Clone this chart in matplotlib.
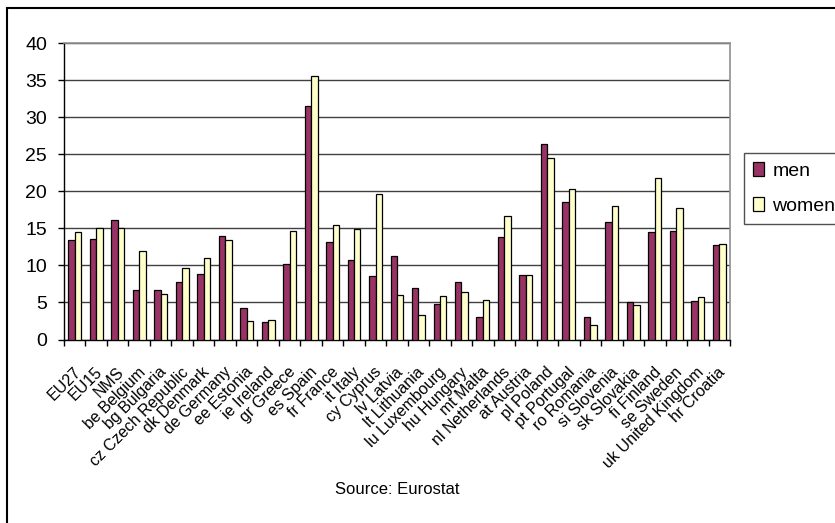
import matplotlib
matplotlib.use("Agg")
import matplotlib.pyplot as plt
import numpy as np
from matplotlib.patches import Rectangle

plt.rcParams["font.family"] = ["Liberation Sans", "DejaVu Sans"]

countries = [
    "EU27", "EU15", "NMS", "be Belgium", "bg Bulgaria", "cz Czech Republic",
    "dk Denmark", "de Germany", "ee Estonia", "ie Ireland", "gr Greece",
    "es Spain", "fr France", "it Italy", "cy Cyprus", "lv Latvia",
    "lt Lithuania", "lu Luxembourg", "hu Hungary", "mt Malta",
    "nl Netherlands", "at Austria", "pl Poland", "pt Portugal", "ro Romania",
    "si Slovenia", "sk Slovakia", "fi Finland", "se Sweden",
    "uk United Kingdom", "hr Croatia",
]
men = [13.4, 13.6, 16.1, 6.7, 6.7, 7.7, 8.8, 14.0, 4.2, 2.3, 10.2,
       31.6, 13.2, 10.7, 8.6, 11.3, 6.9, 4.8, 7.7, 3.1, 13.8, 8.7,
       26.4, 18.6, 3.1, 15.9, 5.0, 14.5, 14.6, 5.2, 12.7]
women = [14.5, 15.0, 15.0, 11.9, 6.2, 9.6, 11.0, 13.4, 2.5, 2.7, 14.6,
         35.6, 15.5, 14.9, 19.7, 6.0, 3.3, 5.9, 6.4, 5.4, 16.7, 8.7,
         24.5, 20.3, 2.0, 18.0, 4.7, 21.8, 17.8, 5.8, 12.9]
yticks = list(range(0, 41, 5))

W, H = 835, 523
fig = plt.figure(figsize=(W / 100, H / 100), dpi=100)
ax = fig.add_axes([64 / W, 1 - 339.5 / H, (730 - 64) / W, (339.5 - 43.3) / H])

# outer chart border (runs off the right and bottom edges)
fig.patches.append(Rectangle((7 / W, -0.2), 2, 1.2 - 8 / H,
                             transform=fig.transFigure, fill=False,
                             edgecolor="black", lw=1.5))

x = np.arange(len(countries))
bw = 0.3
ax.bar(x - bw / 2, men, bw, color="#993366", edgecolor="black", lw=0.9,
       label="men", zorder=3)
ax.bar(x + bw / 2, women, bw, color="#FFFFCC", edgecolor="black", lw=0.9,
       label="women", zorder=3)

ax.set_xlim(-0.5, len(countries) - 0.5)
ax.set_ylim(0, 40)
ax.set_yticks(yticks)
ax.tick_params(axis="y", labelsize=14, length=4.3, width=1, pad=8,
               direction="out")
ax.yaxis.grid(True, color="#404040", lw=1, zorder=0)

ax.set_xticks(x - 0.08)
ax.set_xticklabels(countries, rotation=45, ha="right", va="top",
                   rotation_mode="anchor", fontsize=11.5)
ax.set_xticks(np.arange(-0.5, len(countries)), minor=True)
ax.tick_params(axis="x", which="major", length=0, pad=18)
ax.tick_params(axis="x", which="minor", length=4, width=1, direction="out")

for side in ("left", "bottom"):
    ax.spines[side].set_color("black")
    ax.spines[side].set_linewidth(1)
for side in ("top", "right"):
    ax.spines[side].set_color("#909090")
    ax.spines[side].set_linewidth(1.2)

leg = ax.legend(loc="upper left", bbox_to_anchor=(744 / W, 1 - 153 / H),
                bbox_transform=fig.transFigure, fontsize=14, frameon=True,
                fancybox=False, edgecolor="#505050", framealpha=1,
                handlelength=0.6, handleheight=0.75, handletextpad=0.4,
                labelspacing=0.9, borderpad=0.45, borderaxespad=0)
leg.get_frame().set_linewidth(1)

fig.text(397 / W, 1 - 489 / H, "Source: Eurostat", ha="center",
         va="center", fontsize=12)

fig.savefig("out.png", dpi=100)
